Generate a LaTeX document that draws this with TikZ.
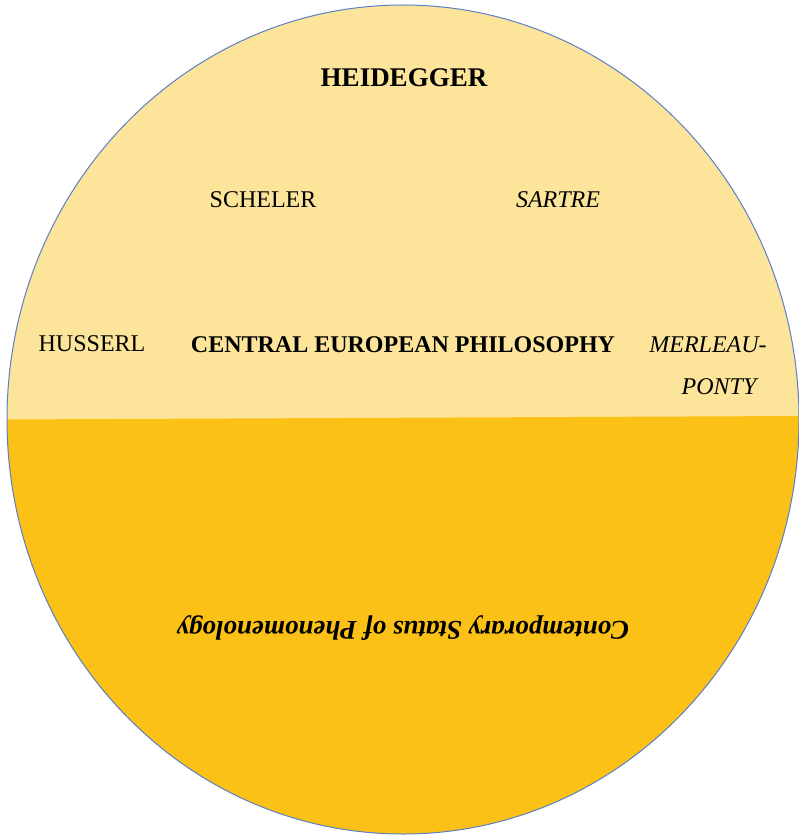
\documentclass[tikz,border=0pt]{standalone}
\usepackage{fontspec}
\setmainfont{Liberation Serif}
\definecolor{lightgold}{HTML}{FCE49A}
\definecolor{darkgold}{HTML}{FCC116}
\definecolor{rimblue}{HTML}{5B7FC6}
\begin{document}
\begin{tikzpicture}[x=1pt,y=-1pt,
  lbl/.style={anchor=base,inner sep=0pt,font=\fontsize{24}{28}\selectfont},
  boldlbl/.style={lbl,font=\fontsize{24}{28}\selectfont\bfseries},
  itlbl/.style={lbl,font=\fontsize{24}{28}\selectfont\itshape}]
\useasboundingbox (0,0) rectangle (799,837);
\fill[lightgold] (403,419.5) ellipse [x radius=396, y radius=414.5];
\begin{scope}
  \clip (403,419.5) ellipse [x radius=396, y radius=414.5];
  \fill[darkgold] (0,419.5) -- (799,416) -- (799,837) -- (0,837) -- cycle;
\end{scope}
\draw[rimblue,line width=1pt] (403,419.5) ellipse [x radius=396, y radius=414.5];
\node[boldlbl,font=\fontsize{27}{30}\selectfont\bfseries] (heid) at (404,87) {HEIDEGGER};
\node[lbl] (sch) at (263,207) {SCHELER};
\node[itlbl] (sar) at (558,207) {SARTRE};
\node[lbl] (hus) at (92,351) {HUSSERL};
\node[boldlbl] (cep) at (403,352) {CENTRAL EUROPEAN PHILOSOPHY};
\node[itlbl] (mer) at (708,352) {MERLEAU-};
\node[itlbl] (pon) at (719,394) {PONTY};
\node[anchor=base,inner sep=0pt,rotate=180,font=\fontsize{27}{30}\selectfont\bfseries\itshape] (csp) at (403,621) {Contemporary Status of Phenomenology};
\end{tikzpicture}
\end{document}
